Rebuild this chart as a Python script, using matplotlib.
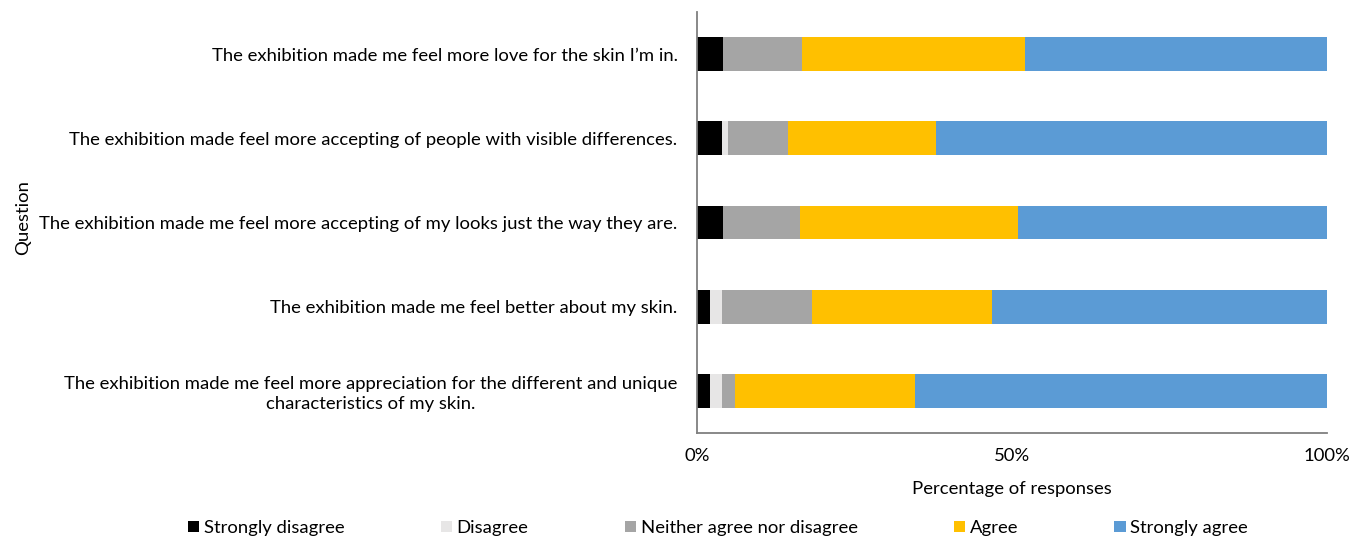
import matplotlib
matplotlib.use("Agg")
import numpy as np
from matplotlib import pyplot as plt

plt.rcParams['font.family'] = ['Lato', 'DejaVu Sans']

# questions, top to bottom
questions = [
    "The exhibition made me feel more love for the skin I\u2019m in.",
    "The exhibition made feel more accepting of people with visible differences.",
    "The exhibition made me feel more accepting of my looks just the way they are.",
    "The exhibition made me feel better about my skin.",
    "The exhibition made me feel more appreciation for the different and unique\ncharacteristics of my skin.",
]
categories = ["Strongly disagree", "Disagree", "Neither agree nor disagree", "Agree", "Strongly agree"]
colors = ["#000000", "#E7E6E6", "#A5A5A5", "#FFC000", "#5B9BD5"]

# percentage of responses per question (same order as questions)
strongly_disagree = [4.2, 3.9, 4.1, 2.0, 2.0]
disagree = [0.0, 1.0, 0.0, 2.0, 2.0]
neither = [12.5, 9.5, 12.2, 14.3, 2.0]
agree = [35.4, 23.6, 34.7, 28.6, 28.6]
strongly_agree = [47.9, 62.0, 49.0, 53.1, 65.4]

series = [strongly_disagree, disagree, neither, agree, strongly_agree]

fs = 13.3

fig = plt.figure(figsize=(13.53, 5.39), dpi=100)
ax = fig.add_axes([697/1353, 1-433/539, 630/1353, 421/539])

y = np.arange(len(questions))[::-1]
left = np.zeros(len(questions))
for name, vals, col in zip(categories, series, colors):
    vals = np.array(vals)
    ax.barh(y, vals, left=left, height=0.4, color=col, label=name, linewidth=0)
    left += vals

ax.set_xlim(0, 100)
ax.set_ylim(-0.5, 4.5)
ax.set_xticks([0, 50, 100])
ax.set_xticklabels(["0%", "50%", "100%"])
ax.set_yticks(y)
ax.set_yticklabels(questions, multialignment='center', linespacing=1.25)
ax.tick_params(axis='both', length=0, labelsize=fs, colors='#000000')
ax.tick_params(axis='x', pad=11)
ax.tick_params(axis='y', pad=14)

for s in ['top', 'right']:
    ax.spines[s].set_visible(False)
for s in ['left', 'bottom']:
    ax.spines[s].set_color('#7f7f7f')
    ax.spines[s].set_linewidth(1.3)

ax.set_xlabel("Percentage of responses", fontsize=fs, labelpad=12)
fig.text(23/1353, 1-218/539, "Question", rotation=90, ha='center', va='center', fontsize=fs)

fig.legend(loc='center', bbox_to_anchor=(718/1353, 11/539), ncol=5, frameon=False,
           fontsize=fs, handlelength=0.62, handleheight=0.62, handletextpad=0.25,
           columnspacing=5.2)

fig.savefig("out.png", dpi=100)
